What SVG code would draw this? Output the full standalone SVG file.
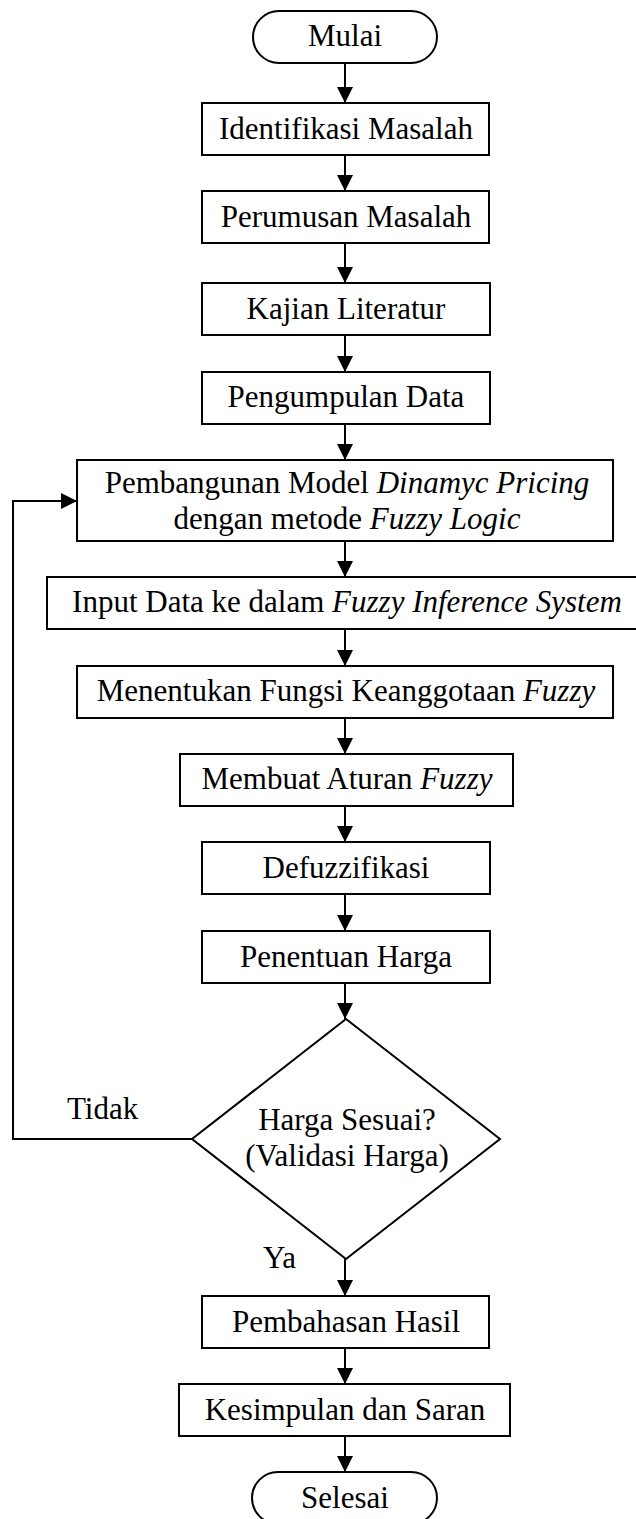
<svg xmlns="http://www.w3.org/2000/svg" width="636" height="1519" viewBox="0 0 636 1519">
<style>
.n{fill:#fff;stroke:#000;stroke-width:2}
.t{font-family:"Liberation Serif","Times New Roman",serif;font-size:31px;fill:#000;text-anchor:middle}
.l{font-family:"Liberation Serif","Times New Roman",serif;font-size:31px;fill:#000}
.c{fill:none;stroke:#000;stroke-width:2}
</style>
<defs>
<marker id="ah" markerUnits="userSpaceOnUse" markerWidth="16" markerHeight="16" refX="16" refY="8" orient="auto">
<path d="M0,0 L16,8 L0,16 Z" fill="#000"/>
</marker>
</defs>
<rect width="636" height="1519" fill="#fff"/>
<g id="connectors">
<path class="c" marker-end="url(#ah)" d="M345,63 V103"/>
<path class="c" marker-end="url(#ah)" d="M345,155 V191"/>
<path class="c" marker-end="url(#ah)" d="M345,243 V283"/>
<path class="c" marker-end="url(#ah)" d="M345,335 V372"/>
<path class="c" marker-end="url(#ah)" d="M345,424 V460"/>
<path class="c" marker-end="url(#ah)" d="M345,541 V577"/>
<path class="c" marker-end="url(#ah)" d="M345,629 V666"/>
<path class="c" marker-end="url(#ah)" d="M345,718 V754"/>
<path class="c" marker-end="url(#ah)" d="M345,806 V842"/>
<path class="c" marker-end="url(#ah)" d="M345,894 V931"/>
<path class="c" marker-end="url(#ah)" d="M345,983 V1019"/>
<path class="c" marker-end="url(#ah)" d="M345,1259 V1296"/>
<path class="c" marker-end="url(#ah)" d="M345,1348 V1384"/>
<path class="c" marker-end="url(#ah)" d="M345,1436 V1472"/>
<path class="c" marker-end="url(#ah)" d="M192,1139 H13 V501 H77"/>
<text class="l" x="67" y="1119">Tidak</text>
<text class="l" x="263" y="1268">Ya</text>
</g>
<g id="mulai"><rect class="n" x="253" y="11" width="184" height="52" rx="26"/><text class="t" x="345" y="46">Mulai</text></g>
<g id="identifikasi"><rect class="n" x="202" y="103" width="287" height="52"/><text class="t" x="346" y="138.5">Identifikasi Masalah</text></g>
<g id="perumusan"><rect class="n" x="202" y="191" width="287" height="52"/><text class="t" x="346" y="226.5">Perumusan Masalah</text></g>
<g id="kajian"><rect class="n" x="202" y="283" width="288" height="52"/><text class="t" x="346" y="318.5">Kajian Literatur</text></g>
<g id="pengumpulan"><rect class="n" x="202" y="372" width="288" height="52"/><text class="t" x="346" y="407">Pengumpulan Data</text></g>
<g id="pembangunan"><rect class="n" x="77" y="460" width="536" height="81"/>
<text class="t" x="347" y="493">Pembangunan Model <tspan font-style="italic">Dinamyc Pricing</tspan></text>
<text class="t" x="347" y="529">dengan metode <tspan font-style="italic">Fuzzy Logic</tspan></text></g>
<g id="input"><rect class="n" x="47" y="577" width="602" height="52"/><text class="t" x="347" y="612">Input Data ke dalam <tspan font-style="italic">Fuzzy Inference System</tspan></text></g>
<g id="menentukan"><rect class="n" x="77" y="666" width="536" height="52"/><text class="t" x="346" y="701">Menentukan Fungsi Keanggotaan <tspan font-style="italic">Fuzzy</tspan></text></g>
<g id="membuat"><rect class="n" x="180" y="754" width="333" height="52"/><text class="t" x="347" y="789">Membuat Aturan <tspan font-style="italic">Fuzzy</tspan></text></g>
<g id="defuzzifikasi"><rect class="n" x="202" y="842" width="288" height="52"/><text class="t" x="346" y="877.5">Defuzzifikasi</text></g>
<g id="penentuan"><rect class="n" x="202" y="931" width="288" height="52"/><text class="t" x="346" y="966.5">Penentuan Harga</text></g>
<g id="validasi"><polygon class="n" points="346,1019 500,1139 346,1259 192,1139"/>
<text class="t" x="347" y="1130">Harga Sesuai?</text>
<text class="t" x="347" y="1166">(Validasi Harga)</text></g>
<g id="pembahasan"><rect class="n" x="202" y="1296" width="287" height="52"/><text class="t" x="346" y="1332">Pembahasan Hasil</text></g>
<g id="kesimpulan"><rect class="n" x="179" y="1384" width="331" height="52"/><text class="t" x="345" y="1419.5">Kesimpulan dan Saran</text></g>
<g id="selesai"><rect class="n" x="252" y="1472" width="185" height="52" rx="26"/><text class="t" x="345" y="1508">Selesai</text></g>
</svg>
